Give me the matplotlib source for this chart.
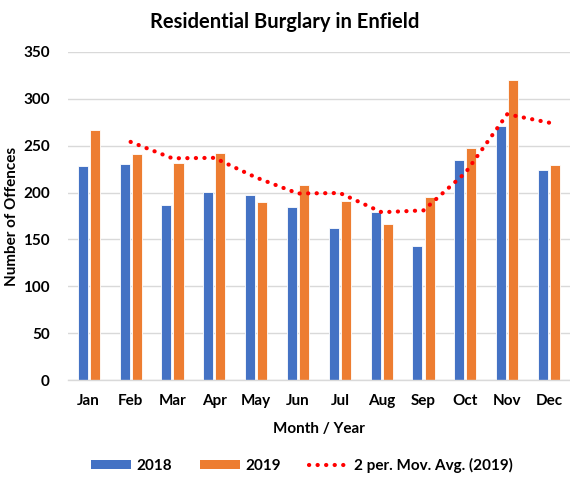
import matplotlib

matplotlib.use("Agg")
import matplotlib.pyplot as plt
from matplotlib.lines import Line2D
from matplotlib.patches import Patch
import numpy as np
import pandas as pd

MONTHS = ["Jan", "Feb", "Mar", "Apr", "May", "Jun",
          "Jul", "Aug", "Sep", "Oct", "Nov", "Dec"]
Y2018 = [228, 230, 187, 201, 197, 185, 162, 179, 143, 235, 271, 224]
Y2019 = [267, 241, 232, 242, 190, 208, 191, 167, 195, 247, 320, 229]

BLUE = "#4472C4"
ORANGE = "#ED7D31"
GRID = "#D9D9D9"
DOTS = (0, (0.05, 2.0))

plt.rcParams["font.family"] = ["Lato", "DejaVu Sans"]
plt.rcParams["font.weight"] = "bold"

fig = plt.figure(figsize=(5.7, 4.8), dpi=100)
ax = fig.add_axes([0.119, 0.208, 0.881, 0.684])

x = np.arange(len(MONTHS))
w = 0.24
off = 0.145
ax.bar(x - off, Y2018, width=w, color=BLUE, edgecolor="white", linewidth=0.6, zorder=2)
ax.bar(x + off, Y2019, width=w, color=ORANGE, edgecolor="white", linewidth=0.6, zorder=2)

# 2-period moving average trendline of 2019
mavg = pd.Series(Y2019).rolling(2).mean().to_numpy()
ax.plot(x, mavg, color="red", linestyle=DOTS, linewidth=3.0,
        dash_capstyle="round", zorder=3)

ax.set_xlim(-0.5, len(MONTHS) - 0.5)
ax.set_ylim(0, 350)
ax.set_yticks(range(0, 351, 50))
ax.set_xticks(x)
ax.set_xticklabels(MONTHS)
ax.tick_params(axis="both", length=0, labelsize=11, colors="black")
ax.tick_params(axis="x", pad=10)
ax.tick_params(axis="y", pad=13)
ax.grid(axis="y", color=GRID, linewidth=1.0, zorder=0)
ax.set_axisbelow(True)
for s in ["top", "right", "left"]:
    ax.spines[s].set_visible(False)
ax.spines["bottom"].set_color(GRID)
ax.spines["bottom"].set_linewidth(1.0)

ax.set_xlabel("Month / Year", fontsize=11, fontweight="bold", labelpad=10)
ax.set_ylabel("Number of Offences", fontsize=11, fontweight="bold", labelpad=3)
fig.suptitle("Residential Burglary in Enfield", fontsize=14.5, fontweight="bold", y=0.975)

handles = [
    Patch(facecolor=BLUE, label="2018"),
    Patch(facecolor=ORANGE, label="2019"),
    Line2D([0], [0], color="red", linestyle=DOTS, linewidth=3.0,
           dash_capstyle="round", label="2 per. Mov. Avg. (2019)"),
]
fig.legend(handles=handles, loc="center", bbox_to_anchor=(0.53, 0.03), ncol=3,
           frameon=False, fontsize=11, handlelength=2.6, handleheight=0.55,
           columnspacing=1.8, handletextpad=0.4)

fig.savefig("out.png", dpi=100, facecolor="white")
